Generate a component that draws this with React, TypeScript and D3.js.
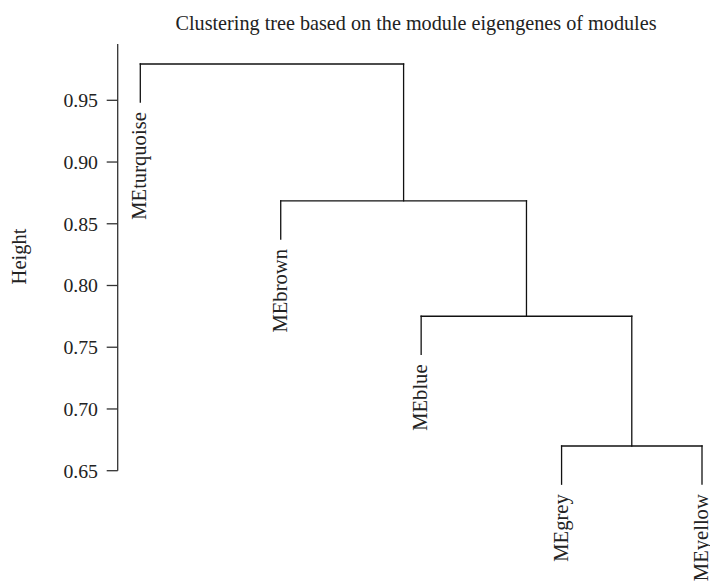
import React from "react";
import * as d3 from "d3";

// Leaf labels in dendrogram order
const leaves = ["MEturquoise", "MEbrown", "MEblue", "MEgrey", "MEyellow"];
// R-style merge matrix: negative = leaf index (1-based), positive = earlier merge step
const merges: [number, number][] = [
  [-4, -5],
  [-3, 1],
  [-2, 2],
  [-1, 3],
];
const mergeHeights = [0.67, 0.7751, 0.8686, 0.9794];
const yTicks = [0.65, 0.7, 0.75, 0.8, 0.85, 0.9, 0.95];
const title = "Clustering tree based on the module eigengenes of modules";
const yLabel = "Height";

const W = 710;
const H = 582;
const FONT = "'Liberation Serif', 'Times New Roman', serif";

export default function App() {
  const y = d3.scaleLinear().domain([0.65, 0.95]).range([470.7, 100.3]);
  const x = d3.scalePoint<string>().domain(leaves).range([140.3, 702]);
  const hang = 0.1 * (d3.max(mergeHeights)! - d3.min(mergeHeights)!);

  type Node = { x: number; h: number; leaf: boolean; name?: string };
  const nodeOf = (id: number, steps: Node[]): Node => {
    if (id < 0) {
      const name = leaves[-id - 1];
      return { x: x(name)!, h: NaN, leaf: true, name };
    }
    return steps[id - 1];
  };
  const steps: Node[] = [];
  const segs: { x1: number; y1: number; x2: number; y2: number }[] = [];
  const labels: { x: number; y: number; text: string }[] = [];
  merges.forEach(([a, b], i) => {
    const h = mergeHeights[i];
    const na = nodeOf(a, steps);
    const nb = nodeOf(b, steps);
    const yh = y(h);
    [na, nb].forEach((n) => {
      const bottom = n.leaf ? y(h - hang) : y(n.h);
      segs.push({ x1: n.x, y1: yh, x2: n.x, y2: bottom });
      if (n.leaf) labels.push({ x: n.x, y: bottom, text: n.name! });
    });
    segs.push({ x1: na.x, y1: yh, x2: nb.x, y2: yh });
    steps.push({ x: (na.x + nb.x) / 2, h, leaf: false });
  });

  const axisX = 117.7;
  const axisTop = y(0.9956);

  return (
    <svg width={W} height={H} style={{ display: "block", position: "absolute", left: 0, top: 0 }} fontFamily={FONT}>
      <rect width={W} height={H} fill="#fff" />
      <text x={416} y={30} textAnchor="middle" fontSize={20.2} fill="#222">
        {title}
      </text>
      <text
        transform={`translate(26,256.5) rotate(-90)`}
        textAnchor="middle"
        fontSize={20.5}
        fill="#222"
      >
        {yLabel}
      </text>
      <line x1={axisX} x2={axisX} y1={axisTop} y2={y(0.65)} stroke="#333" strokeWidth={1.3} />
      {yTicks.map((t) => (
        <g key={t}>
          <line x1={axisX - 11} x2={axisX} y1={y(t)} y2={y(t)} stroke="#333" strokeWidth={1.3} />
          <text x={98} y={y(t)} dy="0.35em" textAnchor="end" fontSize={19.8} fill="#222">
            {d3.format(".2f")(t)}
          </text>
        </g>
      ))}
      {segs.map((s, i) => (
        <line key={i} x1={s.x1} y1={s.y1} x2={s.x2} y2={s.y2} stroke="#111" strokeWidth={1.3} strokeLinecap="square" />
      ))}
      {labels.map((l) => (
        <text
          key={l.text}
          transform={`translate(${l.x + 6},${l.y + 10}) rotate(-90)`}
          textAnchor="end"
          fontSize={20.6}
          fill="#222"
        >
          {l.text}
        </text>
      ))}
    </svg>
  );
}
